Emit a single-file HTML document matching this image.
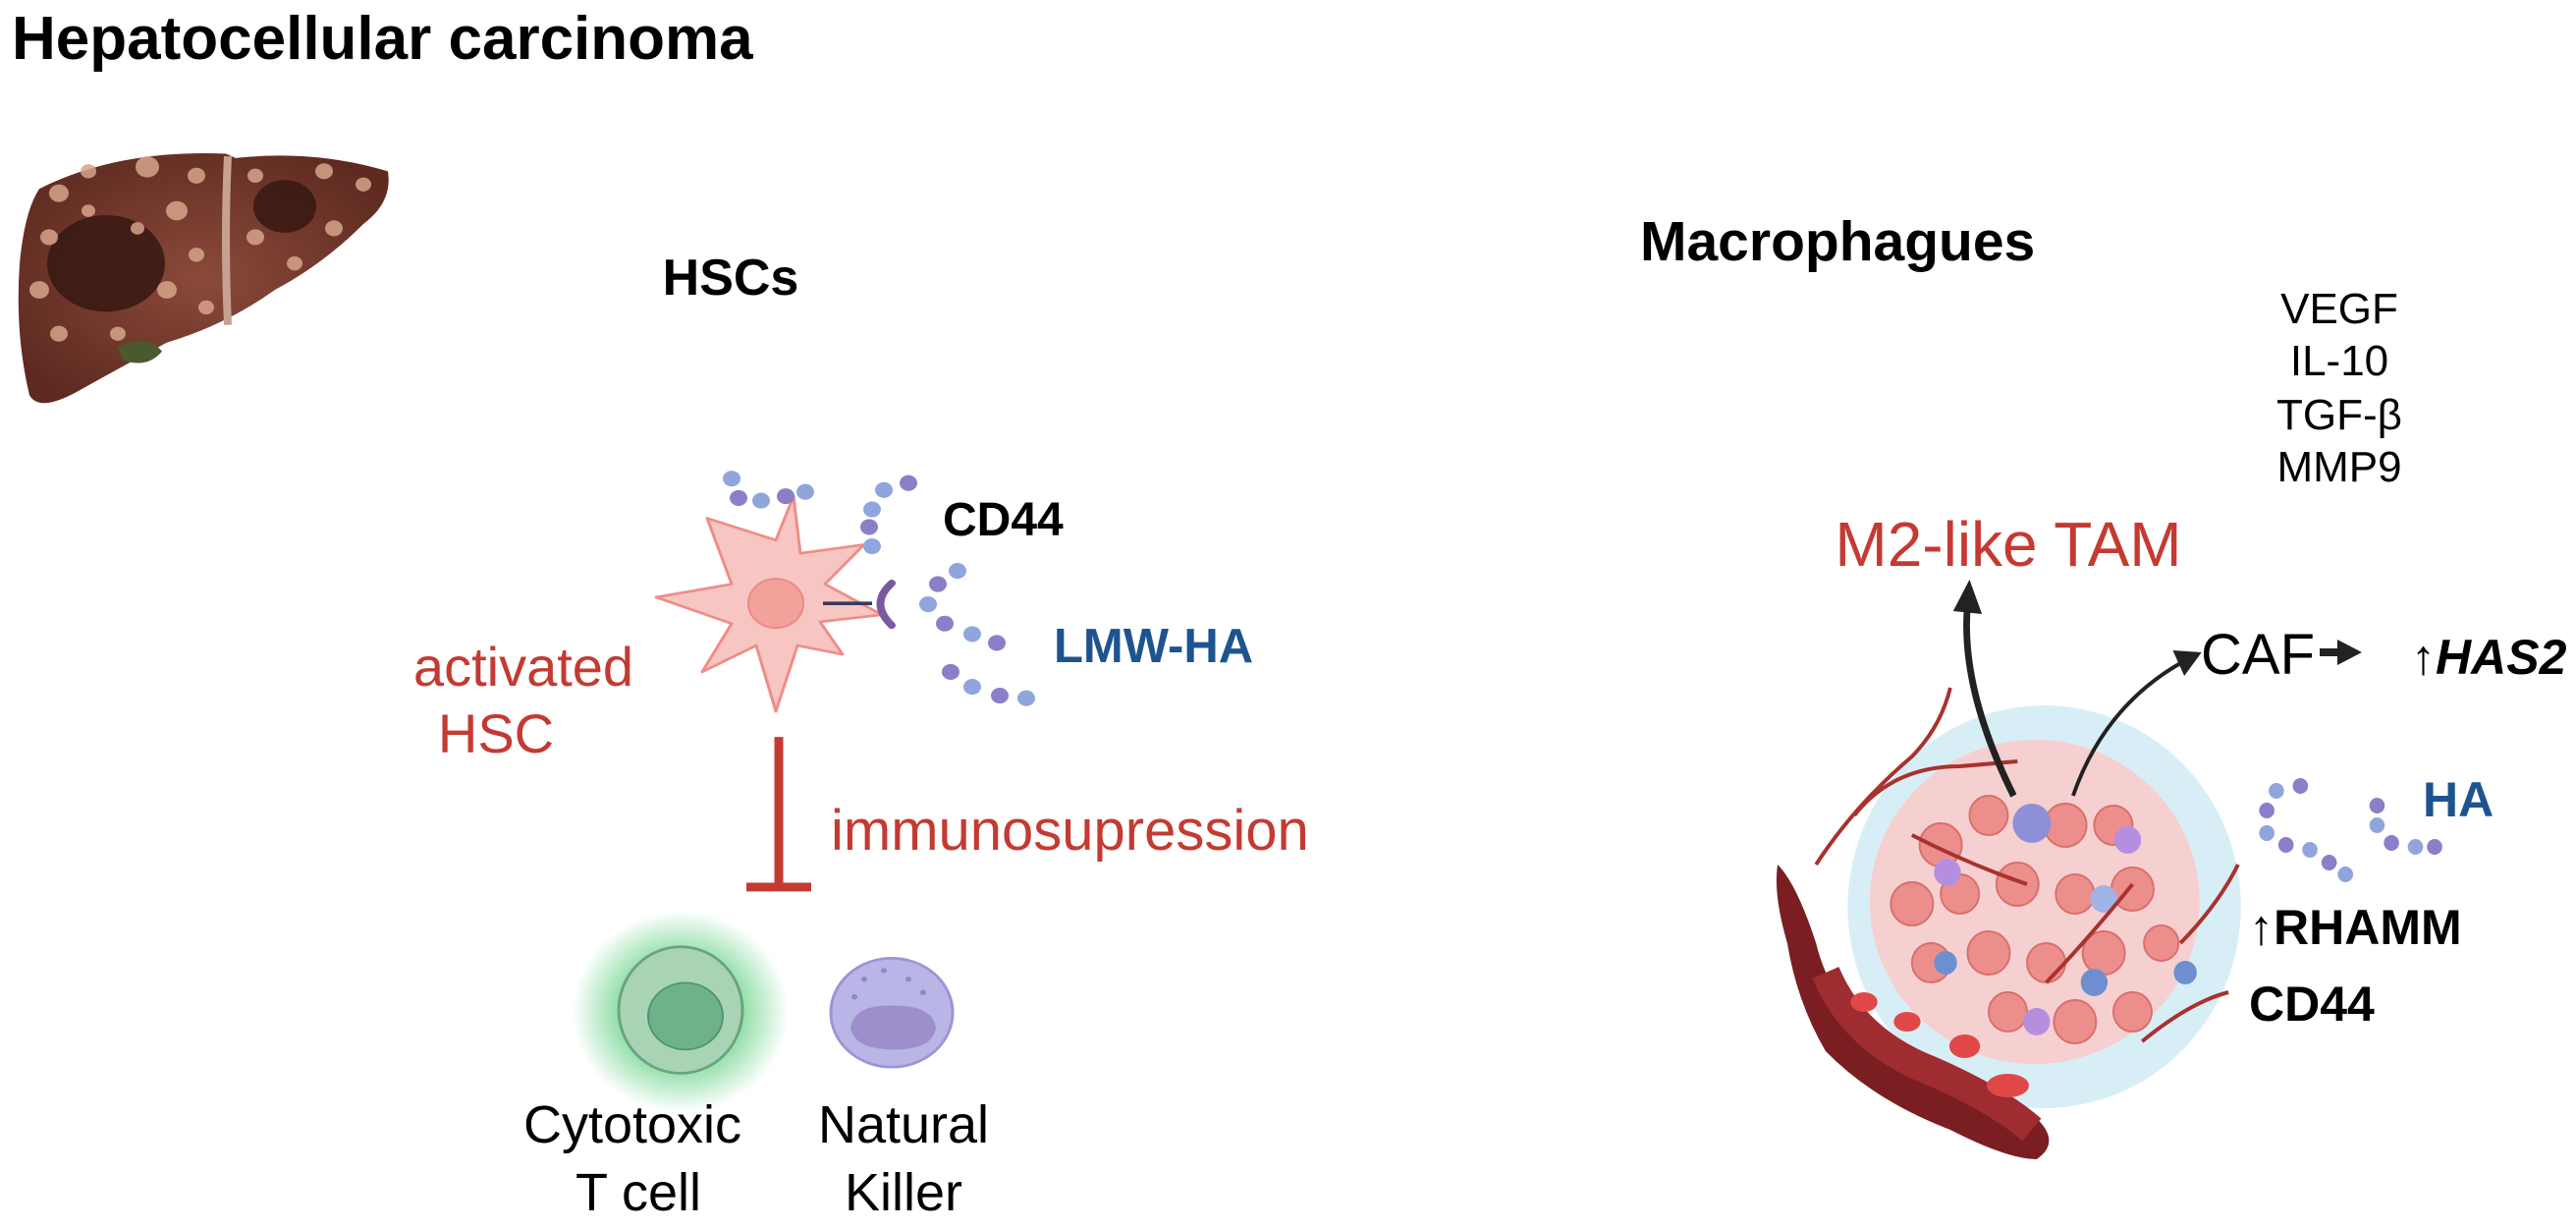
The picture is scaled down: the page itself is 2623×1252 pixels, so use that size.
<!DOCTYPE html>
<html><head><meta charset="utf-8"><style>
html,body{margin:0;padding:0;background:#fff;overflow:hidden;}
svg{display:block;}
text{font-family:"Liberation Sans",sans-serif;}
</style></head><body>
<svg width="2623" height="1252" viewBox="0 0 2623 1252" xmlns="http://www.w3.org/2000/svg">
<defs>
<radialGradient id="glow"><stop offset="0.6" stop-color="#7fd99a" stop-opacity="0.8"/><stop offset="1" stop-color="#7fd99a" stop-opacity="0"/></radialGradient>
<radialGradient id="liv" cx="0.5" cy="0.5" r="0.6"><stop offset="0" stop-color="#8a4a3a"/><stop offset="1" stop-color="#5e2a20"/></radialGradient>
</defs>
<text x="12" y="60" font-size="62" font-weight="bold">Hepatocellular carcinoma</text>

<g transform="scale(1,0.894)">
<path d="M40 215 Q120 170 230 175 L240 180 Q320 170 395 195 Q400 230 370 255 Q330 300 280 330 Q230 370 170 390 Q120 420 80 445 Q40 470 30 450 Q15 380 20 300 Q25 240 40 215 Z" fill="url(#liv)"/>
<path d="M120 395 Q150 380 165 400 Q150 420 125 410 Z" fill="#4a5a30"/>
<path d="M232 178 Q228 270 232 370" stroke="#c8a090" stroke-width="8" fill="none"/>
<ellipse cx="108" cy="300" rx="60" ry="55" fill="#3a1a14" opacity="0.9"/>
<ellipse cx="290" cy="235" rx="32" ry="30" fill="#3a1a14" opacity="0.9"/>
<g fill="#d6a58a" opacity="0.85">
<circle cx="60" cy="220" r="10"/><circle cx="90" cy="195" r="8"/><circle cx="150" cy="190" r="12"/><circle cx="200" cy="200" r="9"/><circle cx="180" cy="240" r="11"/><circle cx="50" cy="270" r="9"/><circle cx="40" cy="330" r="10"/><circle cx="60" cy="380" r="9"/><circle cx="170" cy="330" r="10"/><circle cx="200" cy="290" r="8"/><circle cx="260" cy="200" r="8"/><circle cx="330" cy="195" r="9"/><circle cx="370" cy="210" r="8"/><circle cx="260" cy="270" r="9"/><circle cx="300" cy="300" r="8"/><circle cx="340" cy="260" r="9"/><circle cx="120" cy="380" r="8"/><circle cx="210" cy="350" r="8"/><circle cx="90" cy="240" r="7"/><circle cx="140" cy="260" r="7"/>
</g>
<path d="M790 615 L808 565 L815 630 L880 620 L840 665 L898 700 L835 708 L858 745 L812 735 L790 810 L770 735 L715 765 L745 710 L668 680 L745 665 L720 590 Z" fill="#f7c5c2" stroke="#ef8d86" stroke-width="3" stroke-linejoin="round"/>
<circle cx="790" cy="687" r="28" fill="#f2a19b" stroke="#ea8a83" stroke-width="2"/>
<line x1="838" y1="687" x2="888" y2="687" stroke="#3a3a60" stroke-width="4"/>
<path d="M908 664 Q885 687 908 712" stroke="#7a5aa0" stroke-width="8" fill="none" stroke-linecap="round"/>
<g fill="#8fa5dc">
<circle cx="745" cy="545" r="9"/><circle cx="752" cy="567" r="9" fill="#8a7fc8"/><circle cx="775" cy="570" r="9"/><circle cx="800" cy="565" r="9" fill="#8a7fc8"/><circle cx="820" cy="560" r="9"/>
<circle cx="925" cy="550" r="9" fill="#8a7fc8"/><circle cx="900" cy="558" r="9"/><circle cx="888" cy="580" r="9"/><circle cx="885" cy="600" r="9" fill="#8a7fc8"/><circle cx="888" cy="622" r="9"/>
<circle cx="975" cy="650" r="9"/><circle cx="955" cy="665" r="9" fill="#8a7fc8"/><circle cx="945" cy="688" r="9"/><circle cx="962" cy="710" r="9" fill="#8a7fc8"/><circle cx="990" cy="722" r="9"/><circle cx="1015" cy="732" r="9" fill="#8a7fc8"/>
<circle cx="968" cy="765" r="9" fill="#8a7fc8"/><circle cx="990" cy="782" r="9"/><circle cx="1018" cy="792" r="9" fill="#8a7fc8"/><circle cx="1045" cy="795" r="9"/>
</g>
<line x1="793" y1="839" x2="793" y2="1010" stroke="#c43a32" stroke-width="9"/>
<line x1="760" y1="1010" x2="826" y2="1010" stroke="#c43a32" stroke-width="10"/>
<ellipse cx="693" cy="1152" rx="110" ry="115" fill="url(#glow)"/>
<ellipse cx="693" cy="1150" rx="63" ry="72" fill="#a8d4b5" stroke="#6aa47e" stroke-width="3"/>
<circle cx="698" cy="1157" r="38" fill="#6db28a" stroke="#4f9570" stroke-width="2"/>
<circle cx="908" cy="1153" r="62" fill="#b9b5e6" stroke="#9b95d6" stroke-width="3"/>
<path d="M866 1170 Q870 1143 910 1145 Q950 1145 953 1170 Q950 1195 910 1195 Q870 1195 866 1170 Z" fill="#9d8ecc"/>
<g fill="#8f88c8"><circle cx="880" cy="1115" r="3"/><circle cx="900" cy="1105" r="3"/><circle cx="925" cy="1115" r="3"/><circle cx="940" cy="1130" r="3"/><circle cx="870" cy="1135" r="3"/></g>
</g>

<text x="744" y="300" font-size="52" font-weight="bold" text-anchor="middle">HSCs</text>
<text x="960" y="545" font-size="48" font-weight="bold">CD44</text>
<text x="1073" y="674" font-size="49" font-weight="bold" fill="#1d5490">LMW-HA</text>
<text x="533" y="698" font-size="56" fill="#c43a32" text-anchor="middle">activated</text>
<text x="505" y="766" font-size="56" fill="#c43a32" text-anchor="middle">HSC</text>
<text x="846" y="865" font-size="58" fill="#c43a32">immunosupression</text>
<text x="644" y="1163" font-size="54" text-anchor="middle">Cytotoxic</text>
<text x="650" y="1232" font-size="54" text-anchor="middle">T cell</text>
<text x="920" y="1163" font-size="54" text-anchor="middle">Natural</text>
<text x="920" y="1232" font-size="54" text-anchor="middle">Killer</text>

<text x="1670" y="265" font-size="57" font-weight="bold">Macrophagues</text>
<g font-size="44" text-anchor="middle"><text x="2382" y="329">VEGF</text><text x="2382" y="382">IL-10</text><text x="2382" y="437">TGF-β</text><text x="2382" y="490">MMP9</text></g>
<text x="2045" y="576" font-size="64" fill="#c43a32" text-anchor="middle">M2-like TAM</text>

<g transform="translate(1400,0) scale(0.9765,1) translate(-1400,0)">
<circle cx="2098" cy="923" r="205" fill="#d8eef6"/>
<ellipse cx="2088" cy="918" rx="172" ry="165" fill="#f6d0d0"/>
<g fill="#ec8f8c" stroke="#d8706c" stroke-width="2">
<circle cx="1990" cy="860" r="22"/><circle cx="2040" cy="830" r="20"/><circle cx="2120" cy="840" r="22"/><circle cx="2170" cy="840" r="20"/><circle cx="1960" cy="920" r="22"/><circle cx="2010" cy="910" r="20"/><circle cx="2070" cy="900" r="22"/><circle cx="2130" cy="910" r="20"/><circle cx="2190" cy="905" r="22"/><circle cx="1980" cy="980" r="20"/><circle cx="2040" cy="970" r="22"/><circle cx="2100" cy="980" r="20"/><circle cx="2160" cy="970" r="22"/><circle cx="2220" cy="960" r="18"/><circle cx="2060" cy="1030" r="20"/><circle cx="2130" cy="1040" r="22"/><circle cx="2190" cy="1030" r="20"/>
</g>
<g fill="#6d8fd0"><circle cx="2085" cy="838" r="20" fill="#8f8fd8"/><circle cx="1997" cy="888" r="14" fill="#b68ee0"/><circle cx="2185" cy="855" r="14" fill="#b68ee0"/><circle cx="1995" cy="980" r="12"/><circle cx="2090" cy="1040" r="14" fill="#b68ee0"/><circle cx="2150" cy="1000" r="14"/><circle cx="2245" cy="990" r="12"/><circle cx="2160" cy="915" r="14" fill="#9fb3e6"/></g>
<g stroke="#a8322e" stroke-width="4" fill="none">
<path d="M1860 880 Q1900 820 1960 770 Q1990 740 2000 700"/><path d="M1900 830 Q1940 780 2010 780 L2070 775"/><path d="M2240 960 Q2280 920 2300 880"/><path d="M2200 1060 Q2250 1020 2290 1010"/><path d="M2100 1000 Q2140 960 2190 900"/><path d="M1960 850 Q2020 880 2080 900"/>
</g>
<path d="M1820 880 Q1840 900 1860 960 Q1880 1040 1960 1080 Q2040 1110 2080 1130 Q2120 1160 2090 1180 Q2060 1180 2000 1150 Q1920 1120 1870 1070 Q1840 1020 1830 960 Q1815 910 1820 880 Z" fill="#7a1e22"/>
<path d="M1870 990 Q1900 1060 1980 1090 Q2050 1120 2085 1150" stroke="#9e2c30" stroke-width="30" fill="none"/>
<g fill="#e04848"><ellipse cx="1910" cy="1020" rx="14" ry="10"/><ellipse cx="1955" cy="1040" rx="14" ry="10"/><ellipse cx="2015" cy="1065" rx="16" ry="12"/><ellipse cx="2060" cy="1105" rx="22" ry="12"/></g>
<path d="M2066 810 Q2010 700 2018 615" stroke="#222" stroke-width="7" fill="none"/>
<path d="M2003 622 L2020 590 L2033 625 Z" fill="#222"/>
<path d="M2128 810 Q2160 720 2240 675" stroke="#222" stroke-width="4" fill="none"/>
<path d="M2232 662 L2262 664 L2244 688 Z" fill="#222"/>
<g fill="#8fa5dc">
<circle cx="2340" cy="805" r="8"/><circle cx="2330" cy="825" r="8" fill="#8a7fc8"/><circle cx="2330" cy="848" r="8"/><circle cx="2350" cy="860" r="8" fill="#8a7fc8"/><circle cx="2375" cy="865" r="8"/><circle cx="2395" cy="878" r="8" fill="#8a7fc8"/><circle cx="2412" cy="890" r="8"/><circle cx="2365" cy="800" r="8" fill="#8a7fc8"/>
<circle cx="2445" cy="820" r="8" fill="#8a7fc8"/><circle cx="2445" cy="840" r="8"/><circle cx="2460" cy="858" r="8" fill="#8a7fc8"/><circle cx="2485" cy="862" r="8"/><circle cx="2505" cy="862" r="8" fill="#8a7fc8"/>
</g>
</g>
<text x="2241" y="686" font-size="58">CAF</text>
<line x1="2362" y1="664" x2="2385" y2="664" stroke="#222" stroke-width="8"/>
<path d="M2380 651 L2405 664 L2380 677 Z" fill="#222"/>
<text x="2455" y="686" font-size="50" font-weight="bold" font-style="italic">↑HAS2</text>
<text x="2467" y="831" font-size="50" font-weight="bold" fill="#1d5490">HA</text>
<text x="2290" y="961" font-size="50" font-weight="bold">↑RHAMM</text>
<text x="2290" y="1039" font-size="50" font-weight="bold">CD44</text>
</svg>
</body></html>
